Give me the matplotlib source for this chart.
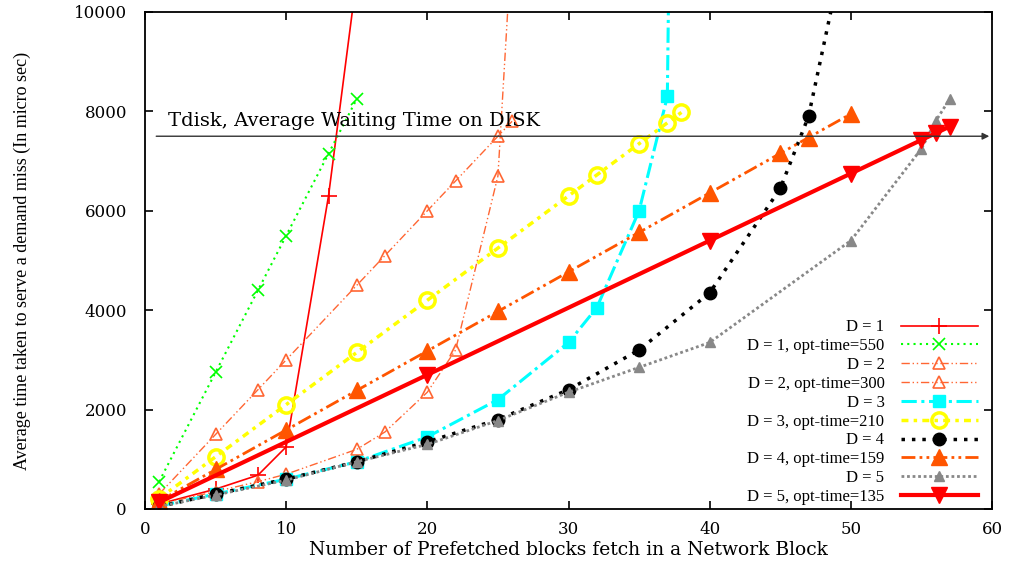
import matplotlib
matplotlib.use('Agg')
import matplotlib.pyplot as plt

plt.rcParams['font.family'] = ['Liberation Serif', 'DejaVu Serif']

# block counts and average service times (micro sec) per run
x_d1 = [1, 5, 8, 10, 13, 15]
y_d1 = [100, 400, 680, 1250, 6300, 10700]

x_d1_opt = [1, 5, 8, 10, 13, 15]
y_d1_opt = [550, 2750, 4400, 5500, 7150, 8250]

x_d2 = [1, 5, 8, 10, 15, 17, 20, 22, 25, 26]
y_d2 = [100, 350, 550, 700, 1200, 1550, 2350, 3200, 6700, 11500]

x_d2_opt = [1, 5, 8, 10, 15, 17, 20, 22, 25, 26]
y_d2_opt = [300, 1500, 2400, 3000, 4500, 5100, 6000, 6600, 7500, 7800]

x_d3 = [1, 5, 10, 15, 20, 25, 30, 32, 35, 37, 38]
y_d3 = [60, 300, 600, 950, 1450, 2200, 3350, 4050, 6000, 8300, 32000]

x_d3_opt = [1, 5, 10, 15, 20, 25, 30, 32, 35, 37, 38]
y_d3_opt = [210, 1050, 2100, 3150, 4200, 5250, 6300, 6720, 7350, 7770, 7980]

x_d4 = [1, 5, 10, 15, 20, 25, 30, 35, 40, 45, 47, 50]
y_d4 = [50, 300, 600, 950, 1350, 1800, 2400, 3200, 4350, 6450, 7900, 11900]

x_d4_opt = [1, 5, 10, 15, 20, 25, 30, 35, 40, 45, 47, 50]
y_d4_opt = [159, 795, 1590, 2385, 3180, 3975, 4770, 5565, 6360, 7155, 7473, 7950]

x_d5 = [1, 5, 10, 15, 20, 25, 30, 35, 40, 50, 55, 56, 57]
y_d5 = [50, 280, 580, 950, 1300, 1780, 2350, 2850, 3350, 5400, 7250, 7800, 8250]

x_d5_opt = [1, 20, 40, 50, 55, 56, 57]
y_d5_opt = [135, 2700, 5400, 6750, 7425, 7560, 7695]

t_disk = 7500

fig = plt.figure(figsize=(10.09, 5.68), dpi=100)
ax = fig.add_axes([0.1437, 0.1039, 0.8395, 0.875])

orange = '#ff6633'
ax.plot(x_d1, y_d1, color='red', lw=1.2, marker='+', ms=12, mew=1.2, label='D = 1')
ax.plot(x_d1_opt, y_d1_opt, color='#00ff00', lw=1.5, ls=(0, (1, 2)), marker='x', ms=9, mew=1.2,
        label='D = 1, opt-time=550')
ax.plot(x_d2, y_d2, color=orange, lw=1.0, ls=(0, (6, 2, 1, 2, 1, 2)), marker='^', ms=8, mfc='none',
        mew=1.2, label='D = 2')
ax.plot(x_d2_opt, y_d2_opt, color=orange, lw=1.0, ls=(0, (6, 2, 1, 2, 1, 2)), marker='^', ms=8,
        mfc='none', mew=1.2, label='D = 2, opt-time=300')
ax.plot(x_d3, y_d3, color='#00ffff', lw=2.2, ls=(0, (5, 1.5, 1, 1.5)), marker='s', ms=9,
        label='D = 3')
ax.plot(x_d3_opt, y_d3_opt, color='#ffff00', lw=2.5, ls=(0, (2, 1.5, 1, 1.5)), marker='o', ms=11,
        mfc='none', mew=2.5, label='D = 3, opt-time=210')
ax.plot(x_d4, y_d4, color='black', lw=2.5, ls=(0, (1, 2)), marker='o', ms=9, label='D = 4')
ax.plot(x_d4_opt, y_d4_opt, color='#ff5500', lw=2.0, ls=(0, (5, 1.5, 1, 1.5, 1, 1.5)), marker='^',
        ms=11, label='D = 4, opt-time=159')
ax.plot(x_d5, y_d5, color='#888888', lw=2.0, ls=(0, (1, 1)), marker='^', ms=7, label='D = 5')
ax.plot(x_d5_opt, y_d5_opt, color='red', lw=3.0, marker='v', ms=12, label='D = 5, opt-time=135')

# disk waiting time reference line
ax.annotate('', xy=(60, t_disk), xytext=(0.6, t_disk),
            arrowprops=dict(arrowstyle='-|>', color='#333333', lw=1.0, mutation_scale=10))
ax.text(1.6, t_disk + 130, 'Tdisk, Average Waiting Time on DISK', fontsize=14,
        family='DejaVu Serif', va='bottom')

ax.set_xlim(0, 60)
ax.set_ylim(0, 10000)
ax.set_xticks(range(0, 61, 10))
ax.set_yticks(range(0, 10001, 2000))
ax.tick_params(direction='in', top=True, right=True, length=6, width=1.2)
ax.tick_params(axis='y', pad=13)
ax.tick_params(axis='x', pad=9)
for lbl in ax.get_xticklabels() + ax.get_yticklabels():
    lbl.set_family('DejaVu Serif')
    lbl.set_fontsize(12)
for s in ax.spines.values():
    s.set_linewidth(1.3)

ax.set_xlabel('Number of Prefetched blocks fetch in a Network Block', fontsize=13.5,
              family='DejaVu Serif', labelpad=2)
ax.set_ylabel('Average time taken to serve a demand miss (In micro sec)', fontsize=13,
              labelpad=31)

leg = ax.legend(loc='lower right', bbox_to_anchor=(0.995, -0.012), frameon=False, markerfirst=False,
                fontsize=12, handlelength=4.6, labelspacing=0.17, handletextpad=1.0,
                borderaxespad=0.2)

plt.savefig('out.png', dpi=100)
